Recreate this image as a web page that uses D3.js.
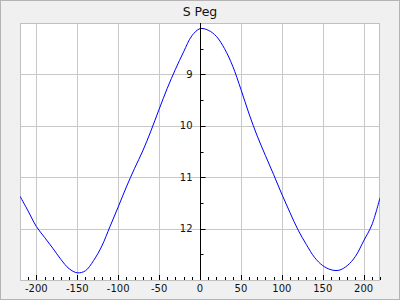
<!DOCTYPE html>
<head>
<meta charset="utf-8">
<style>
body { margin: 0; background: #f0f0f0; }
svg { display: block; font-family: "DejaVu Sans", sans-serif; }
.grid line { stroke: #c8c8c8; }
.axis text { font-size: 10px; fill: #111; }
</style>
<title>S Peg</title>
</head>
<body>
<svg width="400" height="300"></svg>
<script src="https://cdn.jsdelivr.net/npm/d3@7"></script>
<script>
// phase (days) and magnitude
var phase = [-220, -210, -200, -190, -180, -170, -160, -150, -140, -130, -120, -110, -100, -90, -80, -70, -60, -50, -40, -30, -20, -10,
             0, 10, 20, 30, 40, 50, 60, 70, 80, 90, 100, 110, 120, 130, 140, 150, 160, 170, 180, 190, 200, 210, 220]
var mag = [11.37, 11.66, 11.96, 12.17, 12.38, 12.60, 12.78, 12.86, 12.82, 12.62, 12.34, 11.96, 11.58, 11.19, 10.83, 10.49, 10.10, 9.68, 9.27, 8.90, 8.56, 8.25,
           8.11, 8.14, 8.26, 8.50, 8.84, 9.29, 9.77, 10.20, 10.58, 10.95, 11.33, 11.69, 12.03, 12.31, 12.56, 12.72, 12.80, 12.81, 12.72, 12.54, 12.24, 11.93, 11.40]
var xTicks = [-200, -150, -100, -50, 0, 50, 100, 150, 200]
var yTicks = [9, 10, 11, 12]
var title = "S Peg"

var svg = d3.select("svg"),
    pl = 20, pr = 380, pt = 23, pb = 280

var x = d3.scaleLinear().domain([-220, 220]).range([pl, pr]),
    y = d3.scaleLinear().domain([8, 13]).range([pt, pb])

// outer frame
svg.append("rect")
    .attr("x", 0.5).attr("y", 0.5).attr("width", 399).attr("height", 299)
    .attr("fill", "#f0f0f0").attr("stroke", "#b4b4b4")

svg.append("rect")
    .attr("x", pl).attr("y", pt).attr("width", pr - pl).attr("height", pb - pt)
    .attr("fill", "#fff")

var grid = svg.append("g").attr("class", "grid")
grid.selectAll(".vx").data(xTicks).enter().append("line")
    .attr("x1", d => Math.round(x(d)) + 0.5).attr("x2", d => Math.round(x(d)) + 0.5)
    .attr("y1", pt).attr("y2", pb)
grid.selectAll(".hy").data(yTicks).enter().append("line")
    .attr("y1", d => Math.round(y(d)) + 0.5).attr("y2", d => Math.round(y(d)) + 0.5)
    .attr("x1", pl).attr("x2", pr)

svg.append("rect")
    .attr("x", pl + 0.5).attr("y", pt + 0.5).attr("width", pr - pl - 1).attr("height", pb - pt)
    .attr("fill", "none").attr("stroke", "#c0c0c0")

svg.append("clipPath").attr("id", "clip")
  .append("rect").attr("x", pl).attr("y", pt).attr("width", pr - pl).attr("height", pb - pt)

var line = d3.line()
    .x((d, i) => x(phase[i]))
    .y(d => y(d))
    .curve(d3.curveCatmullRom)

svg.append("path")
    .datum(mag)
    .attr("clip-path", "url(#clip)")
    .attr("fill", "none")
    .attr("stroke", "#0000ff")
    .attr("stroke-width", 1)
    .attr("d", line)

// x axis: ticks pointing up from the bottom
var xa = svg.append("g").attr("class", "axis")
xa.selectAll(".minor").data(d3.range(-210, 221, 10)).enter().append("line")
    .attr("x1", d => Math.round(x(d)) + 0.5).attr("x2", d => Math.round(x(d)) + 0.5)
    .attr("y1", pb).attr("y2", d => d % 50 === 0 ? pb - 5 : pb - 3)
    .attr("stroke", "#000")
xa.selectAll("text").data(xTicks).enter().append("text")
    .attr("x", d => x(d)).attr("y", 292)
    .attr("text-anchor", "middle")
    .text(d => d)

// y axis at phase 0
var x0 = Math.round(x(0)) + 0.5
var ya = svg.append("g").attr("class", "axis")
ya.append("line").attr("x1", x0).attr("x2", x0).attr("y1", pt).attr("y2", pb).attr("stroke", "#000")
ya.selectAll(".tick").data(d3.range(8.5, 13, 0.5)).enter().append("line")
    .attr("x1", x0).attr("x2", d => d % 1 === 0 ? x0 + 5 : x0 + 3)
    .attr("y1", d => Math.round(y(d)) + 0.5).attr("y2", d => Math.round(y(d)) + 0.5)
    .attr("stroke", "#000")
ya.selectAll("text").data(yTicks).enter().append("text")
    .attr("x", x0 - 8).attr("y", d => y(d)).attr("dy", "0.34em")
    .attr("text-anchor", "end")
    .text(d => d)

svg.append("text")
    .attr("x", 200).attr("y", 16)
    .attr("text-anchor", "middle")
    .attr("font-size", "12.5px")
    .attr("fill", "#111")
    .text(title)
</script>
</body>
